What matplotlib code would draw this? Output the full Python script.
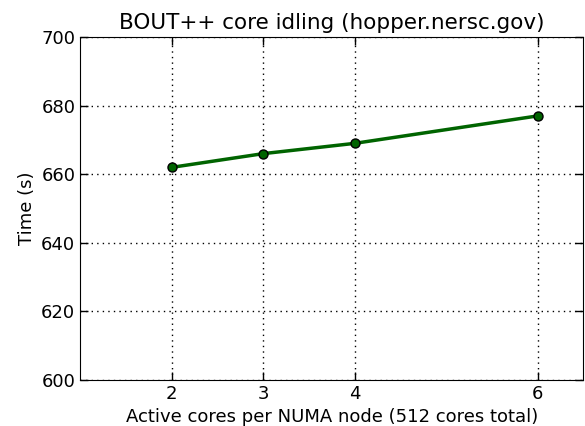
import matplotlib
matplotlib.use('Agg')
import matplotlib.pyplot as plt

cores = [2, 3, 4, 6]
times = [662, 666, 669, 677]

plt.rcParams['font.family'] = 'DejaVu Sans'
plt.rcParams['xtick.direction'] = 'in'
plt.rcParams['ytick.direction'] = 'in'

fig = plt.figure(figsize=(5.85, 4.26), dpi=100)
ax = fig.add_axes([0.137, 0.108, 0.86, 0.805])
ax.plot(cores, times, color='#006400', linewidth=2.5, marker='o', markersize=6.5,
        markerfacecolor='#006400', markeredgecolor='black', markeredgewidth=1)
ax.set_xlim(1, 6.5)
ax.set_ylim(600, 700)
ax.set_xticks(cores)
ax.set_yticks(range(600, 701, 20))
ax.grid(True, linestyle=(0, (1, 3)), color='black', linewidth=1)
ax.tick_params(labelsize=13, length=6, width=1, top=True, right=True)
ax.set_xlabel('Active cores per NUMA node (512 cores total)', fontsize=13)
ax.set_ylabel('Time (s)', fontsize=13)
ax.set_title('BOUT++ core idling (hopper.nersc.gov)', fontsize=15.5)
fig.savefig('out.png', dpi=100)
